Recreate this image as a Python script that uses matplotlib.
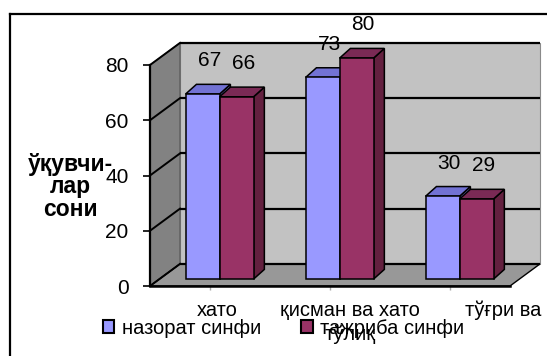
import matplotlib
matplotlib.use("Agg")
import matplotlib.pyplot as plt
from matplotlib.patches import Polygon, Patch
from matplotlib.lines import Line2D
import numpy as np

plt.rcParams['font.family'] = ['Liberation Sans', 'DejaVu Sans']

# ---- data ----
categories = ["хато", "қисман ва хато\nтўлиқ", "тўғри ва"]
series_names = ["назорат синфи", "тажриба синфи"]
control = [67, 73, 30]
experiment = [66, 80, 29]
y_ticks = [0, 20, 40, 60, 80]
y_label = "ўқувчи-\nлар\nсони"

# ---- style ----
front_colors = ["#9999FF", "#993366"]
top_colors = ["#7272D4", "#7A2A55"]
side_colors = ["#6A6AC0", "#63203F"]
wall_back = "#C2C2C2"
wall_left = "#828282"
floor_col = "#989898"

W, H = 547, 356
fig = plt.figure(figsize=(W / 100, H / 100), dpi=100)
fig.patch.set_facecolor("white")

ax_l, ax_r, ax_b, ax_t = 150, 510, 286, 65
ax = fig.add_axes([ax_l / W, (H - ax_b) / H, (ax_r - ax_l) / W, (ax_b - ax_t) / H])
ax.set_xlim(-0.5, 2.5)
ax.set_ylim(0, 80)
ax.patch.set_visible(False)

# depth of the box (category units, value units)
DX, DY = 0.25, 8.0
# bar placement inside the depth
BX, BY = 0.08, 2.5
bdx, bdy = 0.09, 3.5
bw = 0.283

x = np.arange(len(categories))
x0l, x1r = -0.5, len(categories) - 0.5

# walls
ax.add_patch(Polygon([(x0l + DX, DY), (x1r + DX, DY), (x1r + DX, 80 + DY), (x0l + DX, 80 + DY)],
                     closed=True, fc=wall_back, ec="#8a8a8a", lw=0.8, clip_on=False, zorder=0.5))
ax.add_patch(Polygon([(x0l, 0), (x0l, 80), (x0l + DX, 80 + DY), (x0l + DX, DY)],
                     closed=True, fc=wall_left, ec="#555555", lw=0.8, clip_on=False, zorder=0.6))
ax.add_patch(Polygon([(x0l, 0), (x1r, 0), (x1r + DX, DY), (x0l + DX, DY)],
                     closed=True, fc=floor_col, ec="black", lw=1.0, clip_on=False, zorder=0.7))

# gridlines on back and left walls
for t in y_ticks:
    ax.plot([x0l + DX, x1r + DX], [t + DY, t + DY], color="black", lw=1.6,
            clip_on=False, zorder=1, solid_capstyle="butt")
    ax.plot([x0l, x0l + DX], [t, t + DY], color="black", lw=1.4,
            clip_on=False, zorder=1)

# bars
for s, vals in enumerate([control, experiment]):
    left = x - bw + s * bw
    z = 3 + s
    for xl, v in zip(left, vals):
        fx = xl + BX
        side = [(fx + bw, BY), (fx + bw, BY + v), (fx + bw + bdx, BY + v + bdy), (fx + bw + bdx, BY + bdy)]
        top = [(fx, BY + v), (fx + bw, BY + v), (fx + bw + bdx, BY + v + bdy), (fx + bdx, BY + v + bdy)]
        ax.add_patch(Polygon(side, closed=True, fc=side_colors[s], ec="black", lw=1.1,
                             clip_on=False, zorder=z))
        ax.add_patch(Polygon(top, closed=True, fc=top_colors[s], ec="black", lw=1.1,
                             clip_on=False, zorder=z))
    ax.bar(left + BX, vals, width=bw, bottom=BY, align="edge", color=front_colors[s],
           edgecolor="black", linewidth=1.1, zorder=z + 0.1, clip_on=False)
    for xl, v in zip(left, vals):
        ax.text(xl + BX + bw / 2 + 0.055, v + BY + 12.0, str(v), ha="center", va="center",
                fontsize=15, color="black", zorder=10, clip_on=False)

# axes / ticks
for sp in ["top", "right"]:
    ax.spines[sp].set_visible(False)
ax.spines["left"].set_linewidth(1.6)
ax.spines["bottom"].set_linewidth(1.8)
ax.spines["left"].set_zorder(2)
ax.spines["bottom"].set_zorder(2)
ax.set_yticks(y_ticks)
ax.tick_params(axis="y", length=5, width=1.2, pad=10.5, labelsize=15, color="black")
ax.set_xticks(x)
ax.set_xticklabels([])
ax.tick_params(axis="x", length=3, width=1, color="#aaaaaa")

# category labels
label_dx_px = [7, 20, 53]
for xi, lab, dxp in zip(x, categories, label_dx_px):
    ax.annotate(lab, (xi, 0), xytext=(dxp * 0.72, -14.5 * 0.72), textcoords="offset points",
                ha="center", va="top", fontsize=14.5, annotation_clip=False,
                linespacing=1.32)

ax.set_ylabel(y_label, rotation=0, fontsize=16.5, fontweight="bold", ha="center",
              va="center", linespacing=0.95)
ax.yaxis.set_label_coords((70 - ax_l) / (ax_r - ax_l), (ax_b - 187) / (ax_b - ax_t))

# legend
handles = [Patch(fc=front_colors[i], ec="black", lw=1.5) for i in range(2)]
fig.legend(handles, series_names, loc="center left", bbox_to_anchor=(103 / W, 1 - 328 / H),
           bbox_transform=fig.transFigure, ncol=2, frameon=False, borderpad=0,
           borderaxespad=0, handlelength=0.57, handleheight=0.57, handletextpad=0.35,
           columnspacing=2.0, fontsize=14.5)

# outer border
fig.add_artist(Line2D([10 / W, 10 / W], [1 - 14 / H, 0], color="black", lw=1.6,
                      transform=fig.transFigure))
fig.add_artist(Line2D([10 / W, 1], [1 - 14 / H, 1 - 14 / H], color="black", lw=1.6,
                      transform=fig.transFigure))

fig.savefig("out.png", dpi=100)
